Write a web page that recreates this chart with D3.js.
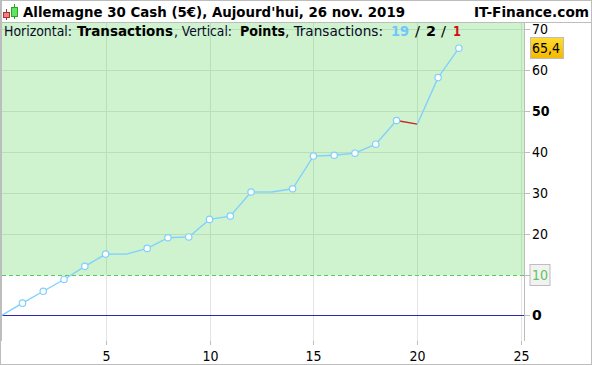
<!DOCTYPE html>
<html>
<head>
<meta charset="utf-8">
<script src="https://cdn.jsdelivr.net/npm/d3@7"></script>
<style>
html, body { margin: 0; padding: 0; background: #fff; }
svg { display: block; }
</style>
</head>
<body>
<svg id="chart"></svg>
<script>
const width = 592;
const height = 365;

const trades = [0, 1, 2, 3, 4, 5, 6, 7, 8, 9, 10, 11, 12, 13, 14, 15, 16, 17, 18, 19, 20, 21, 22];
const pointsWon = [0, 3, 5.9, 8.8, 12, 15, 15, 16.4, 19, 19.2, 23.5, 24.3, 30.2, 30.2, 31, 39, 39.2, 39.7, 41.9, 47.7, 46.8, 58.2, 65.4];
const noMarker = [0, 6, 13, 20];
const xTicks = [5, 10, 15, 20, 25];
const yTicks = [20, 30, 40, 50, 60, 70];
const threshold = 10;
const lastValue = '65,4';
const titleLeft = "Allemagne 30 Cash (5€), Aujourd'hui, 26 nov. 2019";
const titleRight = 'IT-Finance.com';
const subtitleParts = ['Horizontal:', 'Transactions', ', Vertical:', 'Points', ', Transactions:', '19', '/', '2', '/', '1'];

const svg = d3.select('#chart').attr('width', width).attr('height', height);

const xScale = d3.scaleLinear().domain([0, 25]).range([1.7, 521.2]);
const yScale = d3.scaleLinear().domain([0, 70]).range([315.4, 29.4]);
const crisp = v => Math.round(v) + 0.5;

const plot = { left: 2, right: 524, top: 23, bottom: 341 };
const narrow = '"DejaVu Sans Condensed", Tahoma, "DejaVu Sans", sans-serif';
const verdana = 'Verdana, "DejaVu Sans", sans-serif';
const points = trades.map((t, i) => ({ t: t, v: pointsWon[i] }));

// frame
svg.append('rect').attr('x', 0.5).attr('y', 0.5).attr('width', width - 1).attr('height', height - 1)
    .attr('fill', '#fff').attr('stroke', '#bdbdbd');
svg.append('rect').attr('x', 0).attr('y', 0).attr('width', 2).attr('height', plot.bottom)
    .attr('fill', '#bdbdbd');
svg.append('line').attr('x1', 0).attr('x2', width).attr('y1', 22.5).attr('y2', 22.5)
    .attr('stroke', '#bdbdbd');
svg.append('line').attr('x1', plot.right + 0.5).attr('x2', plot.right + 0.5).attr('y1', 23).attr('y2', plot.bottom)
    .attr('stroke', '#bdbdbd');

// green zone above threshold
svg.append('rect')
    .attr('x', plot.left).attr('y', plot.top)
    .attr('width', plot.right - plot.left).attr('height', crisp(yScale(threshold)) - plot.top)
    .attr('fill', '#cff2cf');

// grid
xTicks.forEach(t => {
    svg.append('line').attr('x1', crisp(xScale(t))).attr('x2', crisp(xScale(t)))
        .attr('y1', plot.top).attr('y2', yScale(threshold))
        .attr('stroke', '#b9dfb9');
    svg.append('line').attr('x1', crisp(xScale(t))).attr('x2', crisp(xScale(t)))
        .attr('y1', yScale(threshold)).attr('y2', plot.bottom)
        .attr('stroke', '#e4e4e4');
});
yTicks.forEach(t => {
    svg.append('line').attr('x1', plot.left).attr('x2', plot.right)
        .attr('y1', crisp(yScale(t))).attr('y2', crisp(yScale(t)))
        .attr('stroke', '#b9dfb9');
});

// threshold and zero
svg.append('line').attr('x1', plot.left).attr('x2', plot.right)
    .attr('y1', crisp(yScale(threshold))).attr('y2', crisp(yScale(threshold)))
    .attr('stroke', '#5ac85a').attr('stroke-dasharray', '4,3');
svg.append('line').attr('x1', plot.left).attr('x2', plot.right)
    .attr('y1', crisp(yScale(0))).attr('y2', crisp(yScale(0)))
    .attr('stroke', '#2a2ab0');

// axes
const xAxis = d3.axisBottom(xScale).tickValues(xTicks).tickSize(4).tickPadding(6);
const gx = svg.append('g').attr('transform', `translate(0,${plot.bottom})`).call(xAxis);
gx.select('.domain').remove();
gx.selectAll('.tick').attr('transform', d => `translate(${crisp(xScale(d))},0)`);
gx.selectAll('line').attr('stroke', '#bdbdbd');
gx.selectAll('text').attr('font-family', narrow).attr('font-size', 14).attr('fill', '#000');

const yAxis = d3.axisRight(yScale).tickValues(yTicks.concat([threshold, 0])).tickSize(5).tickPadding(2);
const gy = svg.append('g').attr('transform', `translate(${plot.right + 1},0)`).call(yAxis);
gy.select('.domain').remove();
gy.selectAll('.tick').attr('transform', d => `translate(0,${crisp(yScale(d))})`);
gy.selectAll('line').attr('stroke', '#bdbdbd');
gy.selectAll('text')
    .attr('font-family', d => d === 0 ? verdana : narrow)
    .attr('font-size', d => d === 0 ? 14 : 14)
    .attr('font-weight', d => d === 50 || d === 0 ? 'bold' : 'normal')
    .attr('fill', d => d === threshold ? '#5ac85a' : '#000');

// threshold label box goes under its axis text
gy.selectAll('.tick').filter(d => d === threshold)
    .insert('rect', 'text')
    .attr('x', 5).attr('y', -11).attr('width', 20).attr('height', 21)
    .attr('fill', '#f2f2f2').attr('stroke', '#bdbdbd');

// line segments
d3.pairs(points).forEach(([a, b]) => {
    svg.append('line')
        .attr('x1', xScale(a.t)).attr('y1', yScale(a.v))
        .attr('x2', xScale(b.t)).attr('y2', yScale(b.v))
        .attr('stroke', b.v < a.v ? '#c8242c' : '#7fcfff')
        .attr('stroke-width', 1.3);
});

svg.selectAll('circle.pt')
    .data(points.filter(d => !noMarker.includes(d.t)))
    .enter()
    .append('circle')
    .attr('class', 'pt')
    .attr('cx', d => xScale(d.t))
    .attr('cy', d => yScale(d.v))
    .attr('r', 3.2)
    .attr('fill', '#fff')
    .attr('stroke', '#7fcfff')
    .attr('stroke-width', 1.2);

// last value box
const grad = svg.append('defs').append('linearGradient')
    .attr('id', 'gold').attr('x1', 0).attr('y1', 0).attr('x2', 0).attr('y2', 1);
grad.append('stop').attr('offset', 0).attr('stop-color', '#ffdc30');
grad.append('stop').attr('offset', 1).attr('stop-color', '#f5b800');
svg.append('rect').attr('x', 530.5).attr('y', 37.5).attr('width', 33).attr('height', 21)
    .attr('fill', 'url(#gold)').attr('stroke', '#bdbdbd');
svg.append('text').attr('x', 532).attr('y', 53)
    .attr('font-family', narrow).attr('font-size', 14).text(lastValue);

// titles
svg.append('text').attr('x', 23).attr('y', 17)
    .attr('font-family', verdana).attr('font-size', 14)
    .attr('font-weight', 'bold').attr('textLength', 382).attr('lengthAdjust', 'spacingAndGlyphs')
    .text(titleLeft);
svg.append('text').attr('x', 474).attr('y', 17)
    .attr('font-family', verdana).attr('font-size', 14)
    .attr('font-weight', 'bold').attr('textLength', 115).attr('lengthAdjust', 'spacingAndGlyphs')
    .text(titleRight);

// candle icon
svg.append('line').attr('x1', 6.5).attr('x2', 6.5).attr('y1', 9).attr('y2', 20).attr('stroke', '#a33');
svg.append('rect').attr('x', 3.5).attr('y', 12.5).attr('width', 6).attr('height', 5)
    .attr('fill', '#f08080').attr('stroke', '#a33');
svg.append('line').attr('x1', 14.5).attr('x2', 14.5).attr('y1', 4).attr('y2', 19).attr('stroke', '#2a2');
svg.append('rect').attr('x', 11.5).attr('y', 7.5).attr('width', 6).attr('height', 9)
    .attr('fill', '#66e066').attr('stroke', '#2a2');

// subtitle: each piece placed by hand to keep the Tahoma widths of the original
const subLeft = [4, 77, 174, 240, 285, 391, 415, 426, 441, 453];
const subWide = [68, 96, 58, 45, 98, 18, 5, 10, 5, 8];
const subBold = [0, 1, 0, 1, 0, 1, 0, 1, 0, 1];
const subFill = ['#0a0a28', '#000', '#0a0a28', '#000', '#0a0a28', '#6ec6ff', '#000', '#000', '#000', '#d01010'];
subtitleParts.forEach((t, i) => {
    svg.append('text').attr('x', subLeft[i]).attr('y', 36)
        .attr('font-family', i > 4 ? verdana : narrow).attr('font-size', 14)
        .attr('font-weight', subBold[i] ? 'bold' : 'normal')
        .attr('fill', subFill[i])
        .attr('textLength', subWide[i]).attr('lengthAdjust', 'spacingAndGlyphs')
        .text(t);
});
</script>
</body>
</html>
